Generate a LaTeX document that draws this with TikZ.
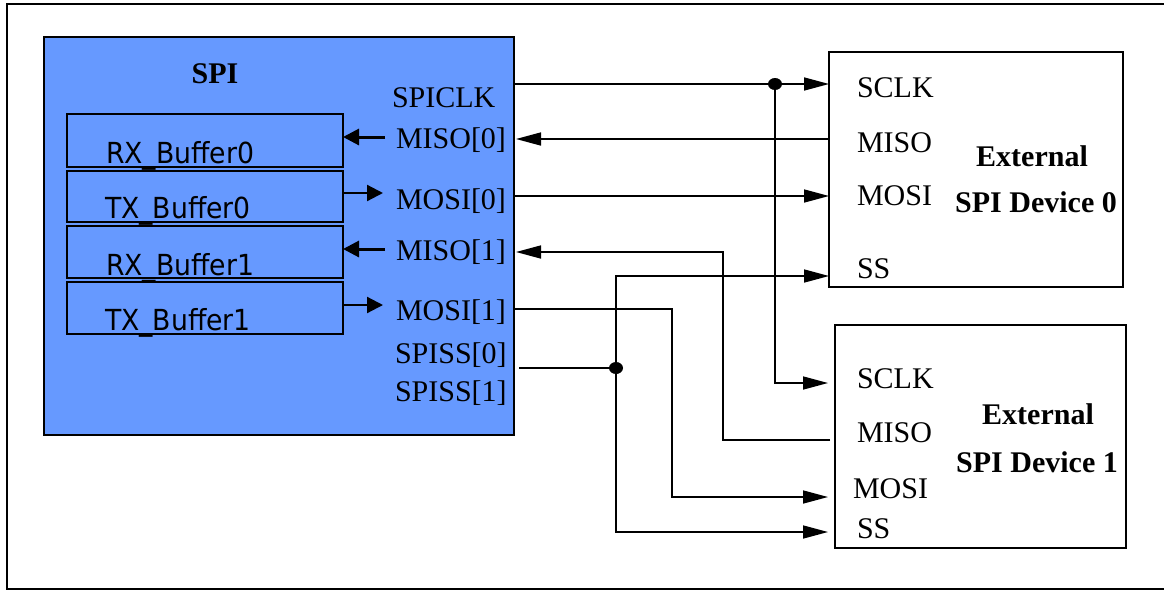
\documentclass[tikz,border=0pt]{standalone}
\usepackage{fontspec}
\setmainfont{Liberation Serif}
\newfontfamily\bufffont[FakeStretch=0.92]{DejaVu Sans}
\usetikzlibrary{arrows.meta}
\definecolor{spiblue}{HTML}{6699FF}
\tikzset{
  every node/.style={inner sep=0pt, outer sep=0pt},
  lbl/.style={font=\fontsize{30}{34}\selectfont, anchor=base west},
  blbl/.style={font=\fontsize{30}{34}\selectfont\bfseries, anchor=base},
  bufflbl/.style={font=\bufffont\fontsize{29}{33}\selectfont, anchor=base west},
  bufbox/.style={draw, line width=1.6pt, minimum width=276pt},
  devbox/.style={draw, line width=1.6pt, fill=white},
  wire/.style={line width=1.6pt},
  arr/.style={wire, -{Triangle[length=25pt,width=13pt]}},
  inarr/.style={line width=2.2pt, -{Triangle[length=16pt,width=16pt]}},
  dotnode/.style={ellipse, fill=black, minimum width=14pt, minimum height=12pt},
}
\usetikzlibrary{shapes.geometric}
\begin{document}
\begin{tikzpicture}[x=1pt,y=-1pt]
\useasboundingbox (0,0) rectangle (1164,590);
% outer frame
\draw[line width=1.6pt] (1170,4) -- (7,4) -- (7,589) -- (1170,589);

% SPI block
\node[draw, line width=1.6pt, fill=spiblue, minimum width=470pt, minimum height=398pt] (spi) at (279,236) {};
\node[blbl] (spititle) at (215,83) {SPI};

% buffers
\node[bufbox, minimum height=53pt] (rx0) at (205,140.5) {};
\node[bufbox, minimum height=51pt] (tx0) at (205,196.5) {};
\node[bufbox, minimum height=52pt] (rx1) at (205,252) {};
\node[bufbox, minimum height=52pt] (tx1) at (205,308) {};
\node[bufflbl] (rx0l) at (106,163) {RX\_Buffer0};
\node[bufflbl] (tx0l) at (105,218) {TX\_Buffer0};
\node[bufflbl] (rx1l) at (106,275) {RX\_Buffer1};
\node[bufflbl] (tx1l) at (105,330) {TX\_Buffer1};

% SPI port labels
\node[lbl] (spiclk) at (392,107) {SPICLK};
\node[lbl] (miso0) at (396,148) {MISO[0]};
\node[lbl] (mosi0) at (396,209) {MOSI[0]};
\node[lbl] (miso1) at (396,260) {MISO[1]};
\node[lbl] (mosi1) at (396,320) {MOSI[1]};
\node[lbl] (spiss0) at (395,363) {SPISS[0]};
\node[lbl] (spiss1) at (395,401) {SPISS[1]};

% internal arrows
\coordinate (i0) at (385,137);
\coordinate (i1) at (343,193);
\coordinate (i2) at (385,249);
\coordinate (i3) at (343,305);
\draw[inarr, line width=3pt] (i0) -- (rx0.east |- i0);
\draw[inarr] (i1) -- (383,193);
\draw[inarr, line width=3pt] (i2) -- (rx1.east |- i2);
\draw[inarr] (i3) -- (383,305);

% devices
\node[devbox, minimum width=294pt, minimum height=235pt] (dev0) at (976,169.5) {};
\node[devbox, minimum width=291pt, minimum height=223pt] (dev1) at (980.5,436.5) {};

\node[lbl] (d0sclk) at (857,97) {SCLK};
\node[lbl] (d0miso) at (857,152) {MISO};
\node[lbl] (d0mosi) at (857,205) {MOSI};
\node[lbl] (d0ss) at (857,278) {SS};
\node[blbl] (d0ext) at (1032,166) {External};
\node[blbl] (d0name) at (1036,212) {SPI Device 0};

\node[lbl] (d1sclk) at (857,388) {SCLK};
\node[lbl] (d1miso) at (857,442) {MISO};
\node[lbl] (d1mosi) at (853,498) {MOSI};
\node[lbl] (d1ss) at (857,538) {SS};
\node[blbl] (d1ext) at (1038,424) {External};
\node[blbl] (d1name) at (1037,472) {SPI Device 1};

% junctions
\node[dotnode] (clkdot) at (775,84) {};
\node[dotnode] (ssdot) at (616,368) {};

% row coordinates
\coordinate (yclk) at (0,84);
\coordinate (ymiso0) at (0,139);
\coordinate (ymosi0) at (0,196);
\coordinate (ymiso1) at (0,252);
\coordinate (yss0) at (0,276);
\coordinate (ymosi1) at (0,309);
\coordinate (yclk1) at (0,383);
\coordinate (ymiso1d) at (0,440);
\coordinate (ymosi1d) at (0,497);
\coordinate (yss1) at (0,532);
\coordinate (d1in) at (828,0);
\coordinate (ssstart) at (519,368);

% external wires
\draw[arr] (spi.east |- yclk) -- (dev0.west |- yclk);
\draw[arr] (clkdot.center) |- (d1in |- yclk1);
\draw[arr] (dev0.west |- ymiso0) -- ([xshift=2pt]spi.east |- ymiso0);
\draw[arr] (spi.east |- ymosi0) -- (dev0.west |- ymosi0);
\draw[arr] ([xshift=-5pt]dev1.west |- ymiso1d) -| (723,252) -- ([xshift=2pt]spi.east |- ymiso1);
\draw[arr] (spi.east |- ymosi1) -| (672,497) -- (d1in |- ymosi1d);
\draw[wire] (ssstart) -- (ssdot.center);
\draw[arr] (ssdot.center) |- (dev0.west |- yss0);
\draw[arr] (ssdot.center) |- (d1in |- yss1);
\end{tikzpicture}
\end{document}
